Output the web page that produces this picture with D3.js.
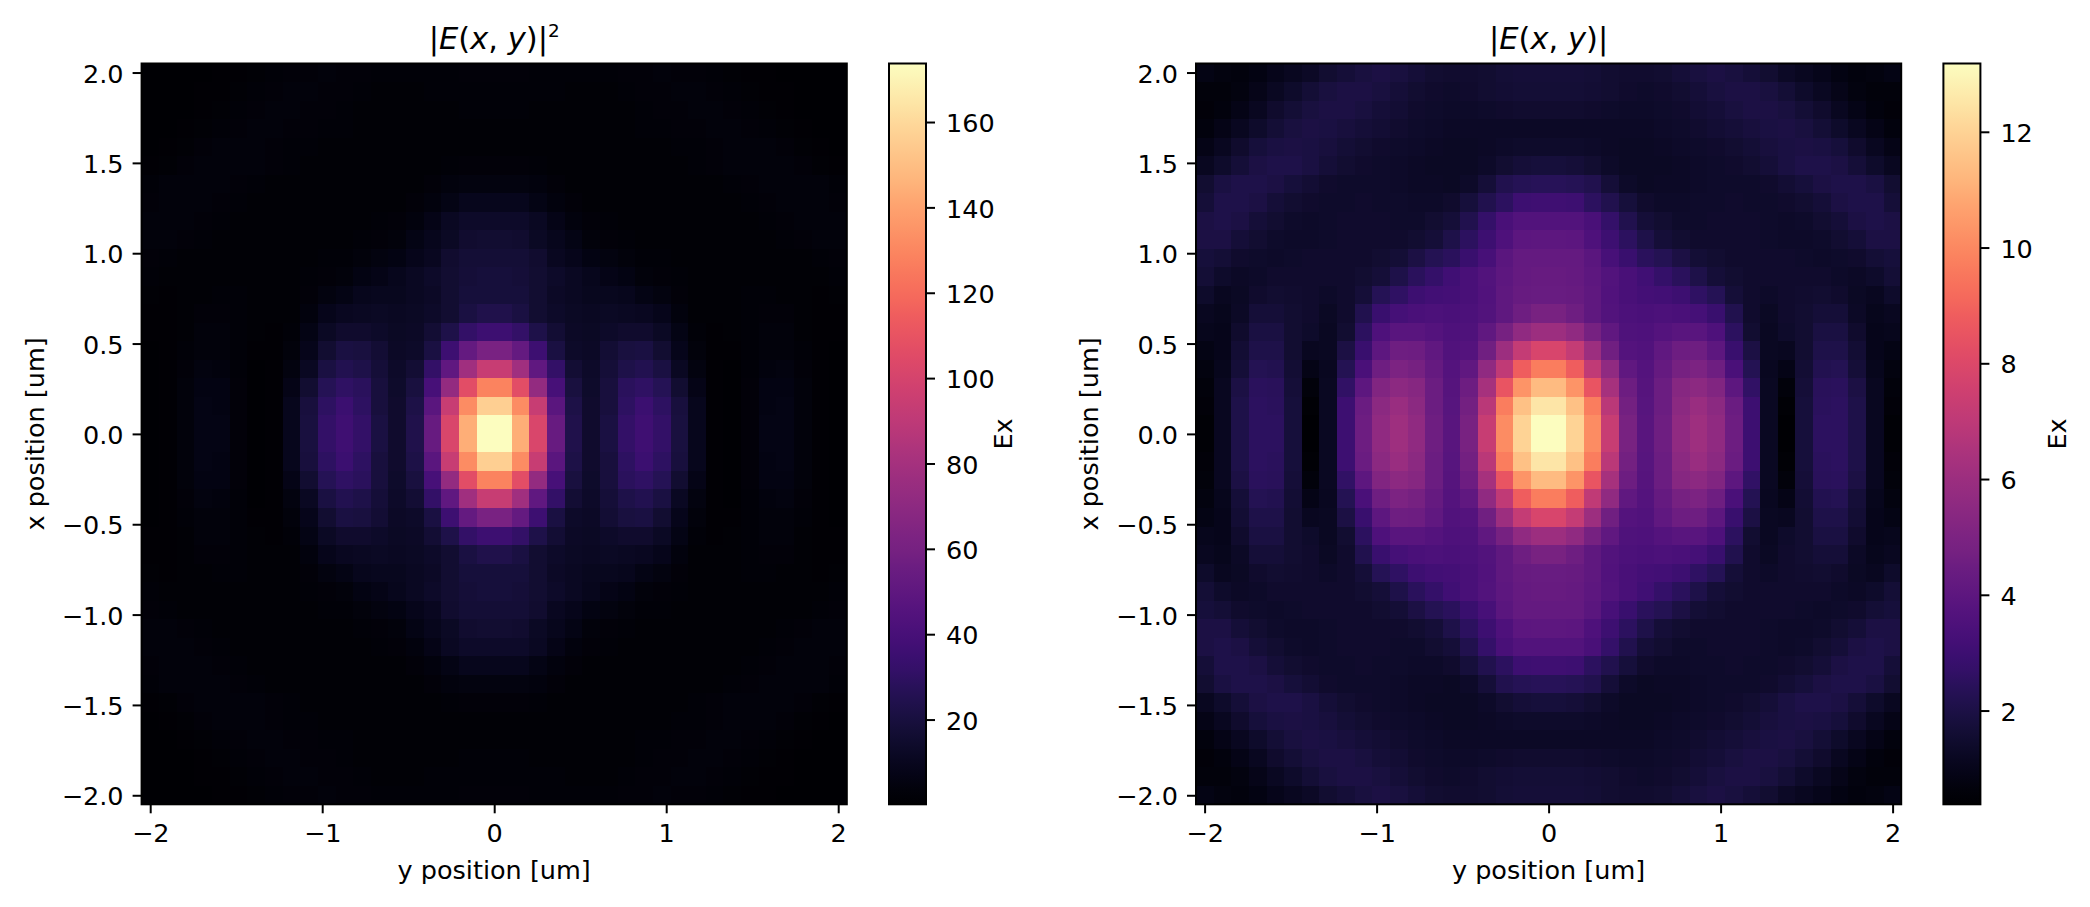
<!DOCTYPE html>
<html>
<head>
<meta charset="utf-8">
<script src="https://cdn.jsdelivr.net/npm/d3@7"></script>
<style>
  body { margin: 0; background: #fff; }
  svg text { font-family: "DejaVu Sans", sans-serif; fill: #000; white-space: pre; }
</style>
</head>
<body>
<svg id="chart" width="2090" height="907"></svg>
<script>
// |E(x,y)|, top row (x = +2 um) first, left column (y = -2 um) first
const fieldRows = [
  [0.85,0.75,0.7,0.8,1.0,1.15,1.3,1.55,1.7,1.85,1.95,1.85,1.7,1.55,1.5,1.5,1.55,1.65,1.7,1.7,1.7,1.7,1.65,1.55,1.5,1.5,1.55,1.7,1.85,1.95,1.85,1.7,1.55,1.3,1.15,1.0,0.8,0.7,0.75,0.85],
  [0.65,0.65,0.75,0.95,1.2,1.4,1.65,1.85,1.95,1.95,1.85,1.7,1.55,1.45,1.4,1.45,1.55,1.6,1.65,1.65,1.65,1.65,1.6,1.55,1.45,1.4,1.45,1.55,1.7,1.85,1.95,1.95,1.85,1.65,1.4,1.2,0.95,0.75,0.65,0.65],
  [0.6,0.7,0.9,1.15,1.45,1.65,1.85,1.95,1.95,1.85,1.7,1.6,1.45,1.4,1.35,1.35,1.4,1.45,1.5,1.5,1.5,1.5,1.45,1.4,1.35,1.35,1.4,1.45,1.6,1.7,1.85,1.95,1.95,1.85,1.65,1.45,1.15,0.9,0.7,0.6],
  [0.7,0.9,1.15,1.4,1.65,1.85,1.95,1.9,1.8,1.7,1.6,1.5,1.4,1.35,1.3,1.3,1.3,1.3,1.3,1.3,1.3,1.3,1.3,1.3,1.3,1.3,1.35,1.4,1.5,1.6,1.7,1.8,1.9,1.95,1.85,1.65,1.4,1.15,0.9,0.7],
  [0.9,1.15,1.45,1.75,1.9,1.95,1.9,1.8,1.65,1.55,1.45,1.4,1.35,1.3,1.25,1.25,1.3,1.35,1.4,1.4,1.4,1.4,1.35,1.3,1.25,1.25,1.3,1.35,1.4,1.45,1.55,1.65,1.8,1.9,1.95,1.9,1.75,1.45,1.15,0.9],
  [1.15,1.4,1.7,1.95,2.05,2.05,1.9,1.7,1.55,1.45,1.4,1.35,1.3,1.25,1.25,1.25,1.35,1.55,1.7,1.75,1.75,1.7,1.55,1.35,1.25,1.25,1.25,1.3,1.35,1.4,1.45,1.55,1.7,1.9,2.05,2.05,1.95,1.7,1.4,1.15],
  [1.55,1.9,2.05,2.05,1.95,1.75,1.6,1.45,1.4,1.4,1.4,1.35,1.3,1.3,1.25,1.35,1.7,2.15,2.3,2.35,2.35,2.3,2.15,1.7,1.35,1.25,1.3,1.3,1.35,1.4,1.4,1.4,1.45,1.6,1.75,1.95,2.05,2.05,1.9,1.55],
  [1.7,2.05,2.05,1.95,1.7,1.55,1.45,1.4,1.4,1.45,1.4,1.4,1.35,1.35,1.45,1.75,2.15,2.5,3.0,3.05,3.05,3.0,2.5,2.15,1.75,1.45,1.35,1.35,1.4,1.4,1.45,1.4,1.4,1.45,1.55,1.7,1.95,2.05,2.05,1.7],
  [1.95,2.05,1.95,1.7,1.55,1.4,1.35,1.4,1.45,1.45,1.45,1.4,1.4,1.55,1.7,2.15,2.75,3.35,3.65,3.65,3.65,3.65,3.35,2.75,2.15,1.7,1.55,1.4,1.4,1.45,1.45,1.45,1.4,1.35,1.4,1.55,1.7,1.95,2.05,1.95],
  [1.95,1.95,1.7,1.55,1.4,1.35,1.35,1.4,1.45,1.45,1.45,1.45,1.55,1.7,2.05,2.5,3.0,3.5,3.95,4.0,4.0,3.95,3.5,3.0,2.5,2.05,1.7,1.55,1.45,1.45,1.45,1.45,1.4,1.35,1.35,1.4,1.55,1.7,1.95,1.95],
  [1.75,1.65,1.45,1.4,1.35,1.4,1.45,1.45,1.45,1.45,1.55,1.65,1.95,2.25,2.45,2.9,3.3,3.9,4.2,4.2,4.2,4.2,3.9,3.3,2.9,2.45,2.25,1.95,1.65,1.55,1.45,1.45,1.45,1.45,1.4,1.35,1.4,1.45,1.65,1.75],
  [1.65,1.4,1.3,1.35,1.45,1.45,1.45,1.45,1.45,1.55,1.7,2.05,2.45,2.75,3.1,3.35,3.65,4.0,4.25,4.3,4.3,4.25,4.0,3.65,3.35,3.1,2.75,2.45,2.05,1.7,1.55,1.45,1.45,1.45,1.45,1.45,1.35,1.3,1.4,1.65],
  [1.4,1.15,1.25,1.45,1.55,1.5,1.45,1.35,1.45,1.7,2.3,2.6,3.0,3.15,3.2,3.35,3.6,4.05,4.3,4.35,4.35,4.3,4.05,3.6,3.35,3.2,3.15,3.0,2.6,2.3,1.7,1.45,1.35,1.45,1.5,1.55,1.45,1.25,1.15,1.4],
  [1.15,1.05,1.3,1.7,1.7,1.55,1.45,1.25,1.45,2.15,2.9,3.25,3.4,3.45,3.4,3.45,3.65,4.05,4.55,4.85,4.85,4.55,4.05,3.65,3.45,3.4,3.45,3.4,3.25,2.9,2.15,1.45,1.25,1.45,1.55,1.7,1.7,1.3,1.05,1.15],
  [1.05,1.0,1.45,1.9,1.9,1.55,1.4,1.2,1.55,2.5,3.5,3.85,3.85,3.7,3.5,3.55,4.1,4.8,5.6,6.0,6.0,5.6,4.8,4.1,3.55,3.5,3.7,3.85,3.85,3.5,2.5,1.55,1.2,1.4,1.55,1.9,1.9,1.45,1.0,1.05],
  [0.85,1.0,1.6,2.05,2.05,1.55,1.15,1.2,1.95,2.9,4.0,4.55,4.5,4.1,3.6,3.7,4.6,6.0,7.2,7.85,7.85,7.2,6.0,4.6,3.7,3.6,4.1,4.5,4.55,4.0,2.9,1.95,1.2,1.15,1.55,2.05,2.05,1.6,1.0,0.85],
  [0.75,1.05,1.7,2.25,2.2,1.6,0.9,1.15,2.25,3.4,4.55,5.0,4.8,4.25,3.7,4.1,5.6,7.1,8.8,9.7,9.7,8.8,7.1,5.6,4.1,3.7,4.25,4.8,5.0,4.55,3.4,2.25,1.15,0.9,1.6,2.2,2.25,1.7,1.05,0.75],
  [0.65,1.15,1.95,2.45,2.4,1.7,0.65,1.2,2.65,4.0,5.15,5.5,5.3,4.45,3.75,4.5,6.3,8.5,10.3,11.35,11.35,10.3,8.5,6.3,4.5,3.75,4.45,5.3,5.5,5.15,4.0,2.65,1.2,0.65,1.7,2.4,2.45,1.95,1.15,0.65],
  [0.6,1.15,2.05,2.5,2.45,1.75,0.5,1.2,3.0,4.4,5.45,5.9,5.45,4.45,3.8,4.7,6.9,9.7,11.5,12.5,12.5,11.5,9.7,6.9,4.7,3.8,4.45,5.45,5.9,5.45,4.4,3.0,1.2,0.5,1.75,2.45,2.5,2.05,1.15,0.6],
  [0.5,1.15,2.05,2.5,2.5,1.75,0.38,1.2,3.0,4.5,5.6,6.05,5.6,4.55,3.85,4.85,7.3,10.1,12.0,13.18,13.18,12.0,10.1,7.3,4.85,3.85,4.55,5.6,6.05,5.6,4.5,3.0,1.2,0.38,1.75,2.5,2.5,2.05,1.15,0.5],
  [0.5,1.15,2.05,2.5,2.5,1.75,0.38,1.2,3.0,4.5,5.6,6.05,5.6,4.55,3.85,4.85,7.3,10.1,12.0,13.18,13.18,12.0,10.1,7.3,4.85,3.85,4.55,5.6,6.05,5.6,4.5,3.0,1.2,0.38,1.75,2.5,2.5,2.05,1.15,0.5],
  [0.6,1.15,2.05,2.5,2.45,1.75,0.5,1.2,3.0,4.4,5.45,5.9,5.45,4.45,3.8,4.7,6.9,9.7,11.5,12.5,12.5,11.5,9.7,6.9,4.7,3.8,4.45,5.45,5.9,5.45,4.4,3.0,1.2,0.5,1.75,2.45,2.5,2.05,1.15,0.6],
  [0.65,1.15,1.95,2.45,2.4,1.7,0.65,1.2,2.65,4.0,5.15,5.5,5.3,4.45,3.75,4.5,6.3,8.5,10.3,11.35,11.35,10.3,8.5,6.3,4.5,3.75,4.45,5.3,5.5,5.15,4.0,2.65,1.2,0.65,1.7,2.4,2.45,1.95,1.15,0.65],
  [0.75,1.05,1.7,2.25,2.2,1.6,0.9,1.15,2.25,3.4,4.55,5.0,4.8,4.25,3.7,4.1,5.6,7.1,8.8,9.7,9.7,8.8,7.1,5.6,4.1,3.7,4.25,4.8,5.0,4.55,3.4,2.25,1.15,0.9,1.6,2.2,2.25,1.7,1.05,0.75],
  [0.85,1.0,1.6,2.05,2.05,1.55,1.15,1.2,1.95,2.9,4.0,4.55,4.5,4.1,3.6,3.7,4.6,6.0,7.2,7.85,7.85,7.2,6.0,4.6,3.7,3.6,4.1,4.5,4.55,4.0,2.9,1.95,1.2,1.15,1.55,2.05,2.05,1.6,1.0,0.85],
  [1.05,1.0,1.45,1.9,1.9,1.55,1.4,1.2,1.55,2.5,3.5,3.85,3.85,3.7,3.5,3.55,4.1,4.8,5.6,6.0,6.0,5.6,4.8,4.1,3.55,3.5,3.7,3.85,3.85,3.5,2.5,1.55,1.2,1.4,1.55,1.9,1.9,1.45,1.0,1.05],
  [1.15,1.05,1.3,1.7,1.7,1.55,1.45,1.25,1.45,2.15,2.9,3.25,3.4,3.45,3.4,3.45,3.65,4.05,4.55,4.85,4.85,4.55,4.05,3.65,3.45,3.4,3.45,3.4,3.25,2.9,2.15,1.45,1.25,1.45,1.55,1.7,1.7,1.3,1.05,1.15],
  [1.4,1.15,1.25,1.45,1.55,1.5,1.45,1.35,1.45,1.7,2.3,2.6,3.0,3.15,3.2,3.35,3.6,4.05,4.3,4.35,4.35,4.3,4.05,3.6,3.35,3.2,3.15,3.0,2.6,2.3,1.7,1.45,1.35,1.45,1.5,1.55,1.45,1.25,1.15,1.4],
  [1.65,1.4,1.3,1.35,1.45,1.45,1.45,1.45,1.45,1.55,1.7,2.05,2.45,2.75,3.1,3.35,3.65,4.0,4.25,4.3,4.3,4.25,4.0,3.65,3.35,3.1,2.75,2.45,2.05,1.7,1.55,1.45,1.45,1.45,1.45,1.45,1.35,1.3,1.4,1.65],
  [1.75,1.65,1.45,1.4,1.35,1.4,1.45,1.45,1.45,1.45,1.55,1.65,1.95,2.25,2.45,2.9,3.3,3.9,4.2,4.2,4.2,4.2,3.9,3.3,2.9,2.45,2.25,1.95,1.65,1.55,1.45,1.45,1.45,1.45,1.4,1.35,1.4,1.45,1.65,1.75],
  [1.95,1.95,1.7,1.55,1.4,1.35,1.35,1.4,1.45,1.45,1.45,1.45,1.55,1.7,2.05,2.5,3.0,3.5,3.95,4.0,4.0,3.95,3.5,3.0,2.5,2.05,1.7,1.55,1.45,1.45,1.45,1.45,1.4,1.35,1.35,1.4,1.55,1.7,1.95,1.95],
  [1.95,2.05,1.95,1.7,1.55,1.4,1.35,1.4,1.45,1.45,1.45,1.4,1.4,1.55,1.7,2.15,2.75,3.35,3.65,3.65,3.65,3.65,3.35,2.75,2.15,1.7,1.55,1.4,1.4,1.45,1.45,1.45,1.4,1.35,1.4,1.55,1.7,1.95,2.05,1.95],
  [1.7,2.05,2.05,1.95,1.7,1.55,1.45,1.4,1.4,1.45,1.4,1.4,1.35,1.35,1.45,1.75,2.15,2.5,3.0,3.05,3.05,3.0,2.5,2.15,1.75,1.45,1.35,1.35,1.4,1.4,1.45,1.4,1.4,1.45,1.55,1.7,1.95,2.05,2.05,1.7],
  [1.55,1.9,2.05,2.05,1.95,1.75,1.6,1.45,1.4,1.4,1.4,1.35,1.3,1.3,1.25,1.35,1.7,2.15,2.3,2.35,2.35,2.3,2.15,1.7,1.35,1.25,1.3,1.3,1.35,1.4,1.4,1.4,1.45,1.6,1.75,1.95,2.05,2.05,1.9,1.55],
  [1.15,1.4,1.7,1.95,2.05,2.05,1.9,1.7,1.55,1.45,1.4,1.35,1.3,1.25,1.25,1.25,1.35,1.55,1.7,1.75,1.75,1.7,1.55,1.35,1.25,1.25,1.25,1.3,1.35,1.4,1.45,1.55,1.7,1.9,2.05,2.05,1.95,1.7,1.4,1.15],
  [0.9,1.15,1.45,1.75,1.9,1.95,1.9,1.8,1.65,1.55,1.45,1.4,1.35,1.3,1.25,1.25,1.3,1.35,1.4,1.4,1.4,1.4,1.35,1.3,1.25,1.25,1.3,1.35,1.4,1.45,1.55,1.65,1.8,1.9,1.95,1.9,1.75,1.45,1.15,0.9],
  [0.7,0.9,1.15,1.4,1.65,1.85,1.95,1.9,1.8,1.7,1.6,1.5,1.4,1.35,1.3,1.3,1.3,1.3,1.3,1.3,1.3,1.3,1.3,1.3,1.3,1.3,1.35,1.4,1.5,1.6,1.7,1.8,1.9,1.95,1.85,1.65,1.4,1.15,0.9,0.7],
  [0.6,0.7,0.9,1.15,1.45,1.65,1.85,1.95,1.95,1.85,1.7,1.6,1.45,1.4,1.35,1.35,1.4,1.45,1.5,1.5,1.5,1.5,1.45,1.4,1.35,1.35,1.4,1.45,1.6,1.7,1.85,1.95,1.95,1.85,1.65,1.45,1.15,0.9,0.7,0.6],
  [0.65,0.65,0.75,0.95,1.2,1.4,1.65,1.85,1.95,1.95,1.85,1.7,1.55,1.45,1.4,1.45,1.55,1.6,1.65,1.65,1.65,1.65,1.6,1.55,1.45,1.4,1.45,1.55,1.7,1.85,1.95,1.95,1.85,1.65,1.4,1.2,0.95,0.75,0.65,0.65],
  [0.85,0.75,0.7,0.8,1.0,1.15,1.3,1.55,1.7,1.85,1.95,1.85,1.7,1.55,1.5,1.5,1.55,1.65,1.7,1.7,1.7,1.7,1.65,1.55,1.5,1.5,1.55,1.7,1.85,1.95,1.85,1.7,1.55,1.3,1.15,1.0,0.8,0.7,0.75,0.85]
];

const gridExtent = [-2.05, 2.05];          // um, both directions
const yPosTicks = [-2, -1, 0, 1, 2];       // horizontal axis
const xPosTicks = [-2, -1.5, -1, -0.5, 0, 0.5, 1, 1.5, 2];   // vertical axis
const intensityTicks = [20, 40, 60, 80, 100, 120, 140, 160];
const amplitudeTicks = [2, 4, 6, 8, 10, 12];
const intensityTitle = ["|", "E", "(", "x", ", ", "y", ")|"];
const amplitudeTitle = ["|", "E", "(", "x", ", ", "y", ")|"];
const cbLabel = "Ex";
const xLabel = "y position [um]";
const yLabel = "x position [um]";

// |E|^2 is the square of the same field
const intensityRows = fieldRows.map(r => r.map(v => v * v));

const svg = d3.select("#chart");
svg.append("rect").attr("width", 2090).attr("height", 907).attr("fill", "#fff");

const W = 705.2, H = 740.8, TOP = 63.5;
const FONT = "25.5px";

function styleAxis(ax) {
  ax.attr("font-size", null).attr("font-family", null);
  ax.select(".domain").remove();
  ax.selectAll(".tick line").attr("stroke", "#000").attr("stroke-width", 2);
  ax.selectAll(".tick text").style("font-size", FONT);
}

function drawPanel(left, grid, cbTicks, titleParts, sup, id) {
  const g = svg.append("g").attr("transform", `translate(${left},${TOP})`);

  const x = d3.scaleLinear().domain(gridExtent).range([0, W]);
  const y = d3.scaleLinear().domain(gridExtent).range([H, 0]);
  const cols = d3.scaleBand().domain(d3.range(grid[0].length)).range([0, W]);
  const rows = d3.scaleBand().domain(d3.range(grid.length)).range([0, H]);
  const ext = d3.extent(grid.flat());
  const color = d3.scaleSequential(d3.interpolateMagma).domain(ext);

  const cells = [];
  grid.forEach((row, j) => row.forEach((v, i) => cells.push({ i, j, v })));

  g.append("g")
    .selectAll("rect")
    .data(cells)
    .join("rect")
    .attr("x", d => cols(d.i))
    .attr("y", d => rows(d.j))
    .attr("width", cols.bandwidth() + 0.4)
    .attr("height", rows.bandwidth() + 0.4)
    .attr("fill", d => color(d.v))
    .attr("shape-rendering", "crispEdges");

  // frame
  g.append("rect")
    .attr("width", W).attr("height", H)
    .attr("fill", "none").attr("stroke", "#000").attr("stroke-width", 2);

  const xa = g.append("g")
    .attr("transform", `translate(0,${H})`)
    .call(d3.axisBottom(x).tickValues(yPosTicks).tickFormat(d3.format("d")).tickSize(9).tickPadding(9));
  styleAxis(xa);
  xa.selectAll(".tick text").attr("dy", "0.78em");

  const ya = g.append("g")
    .call(d3.axisLeft(y).tickValues(xPosTicks).tickFormat(d3.format(".1f")).tickSize(9).tickPadding(9));
  styleAxis(ya);
  ya.selectAll(".tick text").attr("dy", "0.38em");

  g.append("text")
    .attr("x", W / 2).attr("y", 815.5)
    .attr("text-anchor", "middle")
    .style("font-size", FONT)
    .text(xLabel);

  g.append("text")
    .attr("transform", `translate(-97.6,${H / 2}) rotate(-90)`)
    .attr("text-anchor", "middle")
    .style("font-size", FONT)
    .text(yLabel);

  // title in mathtext style
  const t = g.append("text")
    .attr("x", W / 2).attr("y", -14.2)
    .attr("text-anchor", "middle")
    .style("font-size", "30.5px");
  titleParts.forEach((p, k) => {
    t.append("tspan").style("font-style", k % 2 ? "italic" : "normal").text(p);
  });
  if (sup) t.append("tspan").attr("dy", -12.6).style("font-size", "18.4px").text(sup);

  // colorbar
  const cbX = 747.4, cbW = 37;
  const grad = svg.append("defs").append("linearGradient")
    .attr("id", "grad" + id)
    .attr("x1", 0).attr("y1", 1).attr("x2", 0).attr("y2", 0);
  d3.range(0, 1.0001, 0.02).forEach(s => {
    grad.append("stop").attr("offset", s).attr("stop-color", d3.interpolateMagma(s));
  });
  const cb = g.append("g").attr("transform", `translate(${cbX},0)`);
  cb.append("rect").attr("width", cbW).attr("height", H).attr("fill", `url(#grad${id})`);
  cb.append("rect").attr("width", cbW).attr("height", H)
    .attr("fill", "none").attr("stroke", "#000").attr("stroke-width", 2);
  const cbScale = d3.scaleLinear().domain(ext).range([H, 0]);
  const cba = cb.append("g")
    .attr("transform", `translate(${cbW},0)`)
    .call(d3.axisRight(cbScale).tickValues(cbTicks).tickFormat(d3.format("d")).tickSize(9).tickPadding(11));
  styleAxis(cba);
  cba.selectAll(".tick text").attr("dy", "0.38em");

  g.append("text")
    .attr("transform", `translate(870,${H / 2}) rotate(-90)`)
    .attr("text-anchor", "middle")
    .style("font-size", FONT)
    .text(cbLabel);
}

drawPanel(141.6, intensityRows, intensityTicks, intensityTitle, "2", "I");
drawPanel(1196, fieldRows, amplitudeTicks, amplitudeTitle, null, "A");
</script>
</body>
</html>
